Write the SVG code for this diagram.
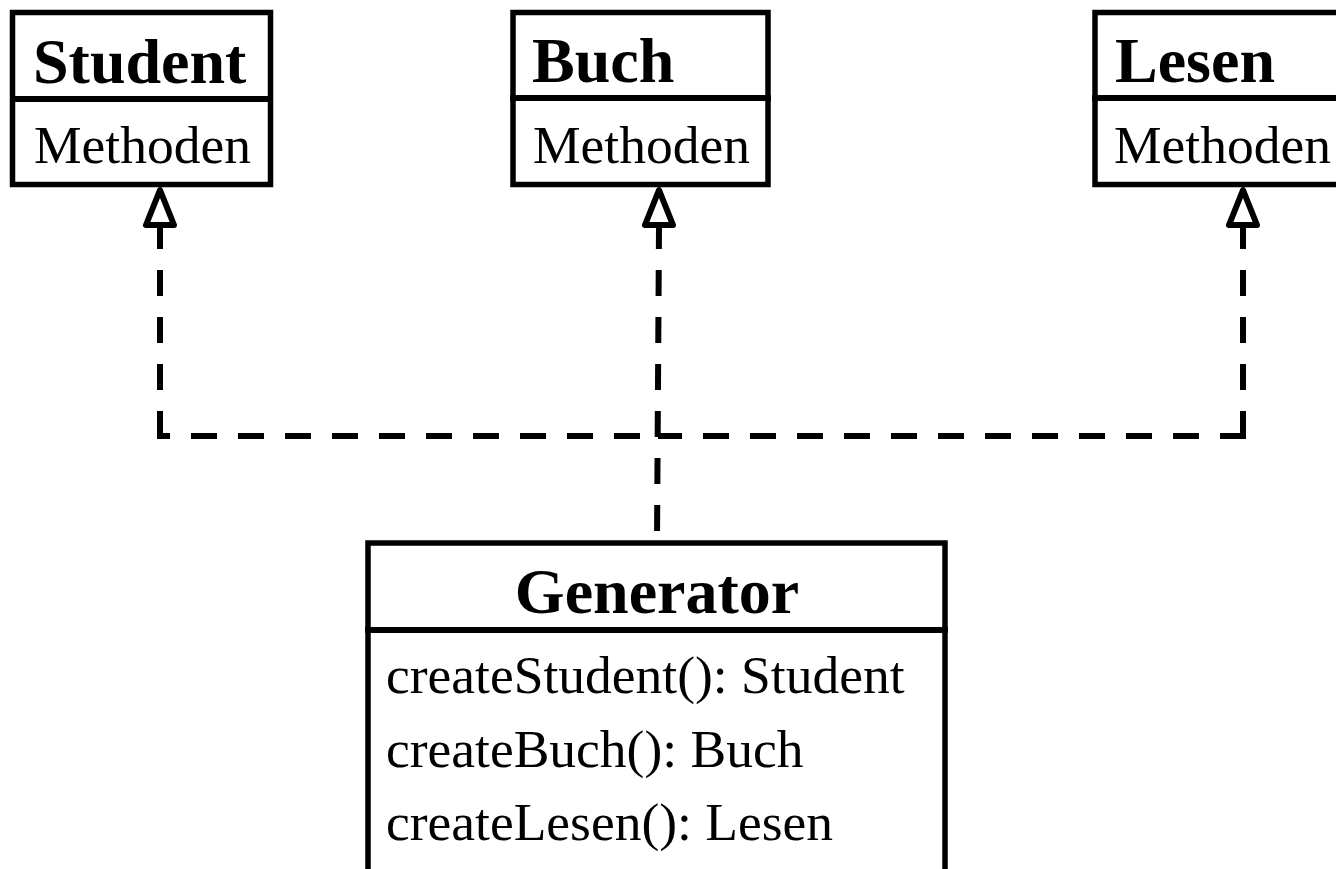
<svg xmlns="http://www.w3.org/2000/svg" width="1336" height="869" viewBox="0 0 1336 869">
  <style>
    .box { fill: #ffffff; stroke: #000000; stroke-width: 5.5; }
    .sep { stroke: #000000; stroke-width: 6; }
    .title { font-family: "Liberation Serif", "Times New Roman", serif; font-weight: bold; font-size: 64px; fill: #000000; }
    .member { font-family: "Liberation Serif", "Times New Roman", serif; font-size: 53.5px; fill: #000000; }
    .dash { fill: none; stroke: #000000; stroke-width: 6; stroke-dasharray: 26 21; }
    .head { fill: #ffffff; stroke: #000000; stroke-width: 6; stroke-linejoin: round; }
  </style>
  <rect width="1336" height="869" fill="#ffffff"/>

  <!-- realization connectors (dashed) -->
  <g id="connectors">
    <path class="dash" d="M160,228 V436" stroke-dashoffset="5"/>
    <path class="dash" d="M157,436 H658" stroke-dashoffset="13"/>
    <path class="dash" d="M1243,228 V436" stroke-dashoffset="5"/>
    <path class="dash" d="M1246,436 H658" stroke-dashoffset="0"/>
    <path class="dash" d="M659,228 L657,542" stroke-dashoffset="5"/>
    <polygon class="head" points="160,190 146,225 174,225"/>
    <polygon class="head" points="659,190 645,225 673,225"/>
    <polygon class="head" points="1243,190 1229,225 1257,225"/>
  </g>

  <g id="student">
    <rect class="box" x="12.5" y="12.5" width="258" height="172"/>
    <line class="sep" x1="10" y1="99" x2="273" y2="99"/>
    <text class="title" x="33" y="83">Student</text>
    <text class="member" x="34" y="163">Methoden</text>
  </g>

  <g id="buch">
    <rect class="box" x="513" y="12.5" width="255" height="172"/>
    <line class="sep" x1="510" y1="98" x2="771" y2="98"/>
    <text class="title" x="532" y="82">Buch</text>
    <text class="member" x="533" y="163">Methoden</text>
  </g>

  <g id="lesen">
    <rect class="box" x="1095" y="12.5" width="260" height="172"/>
    <line class="sep" x1="1092" y1="98" x2="1340" y2="98"/>
    <text class="title" x="1115" y="82">Lesen</text>
    <text class="member" x="1114" y="163">Methoden</text>
  </g>

  <g id="generator">
    <rect class="box" x="368" y="543" width="577" height="360"/>
    <line class="sep" x1="365" y1="630" x2="948" y2="630"/>
    <text class="title" x="657" y="613" text-anchor="middle">Generator</text>
    <text class="member" x="386" y="693">createStudent(): Student</text>
    <text class="member" x="386" y="767">createBuch(): Buch</text>
    <text class="member" x="386" y="840">createLesen(): Lesen</text>
  </g>
</svg>
